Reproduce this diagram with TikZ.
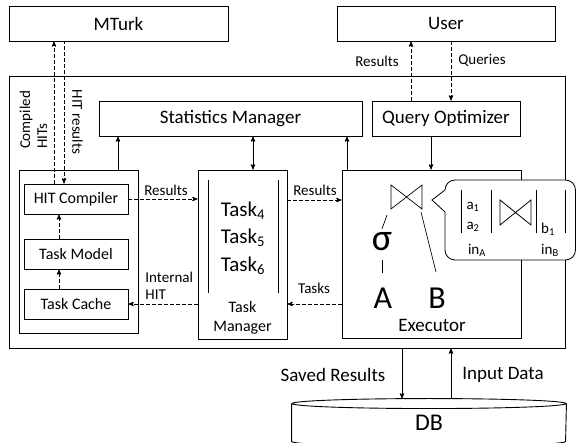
\documentclass[tikz,border=0pt]{standalone}
\usepackage{fontspec}
\setmainfont{Carlito}
\usetikzlibrary{positioning,arrows}

\begin{document}
\begin{tikzpicture}[x=1pt,y=-1pt,>=stealth',line width=0.9pt]
        \tikzstyle{box}=[draw,inner sep=0pt,font=\fontsize{19}{22}\selectfont]
        \tikzstyle{sub}=[draw,inner sep=0pt,minimum width=104pt,minimum height=30pt,
                font=\fontsize{16}{18}\selectfont]
        \tikzstyle{lbl}=[inner sep=0pt,font=\fontsize{15}{17}\selectfont]
        \tikzstyle{dsh}=[dash pattern=on 4pt off 2pt]
        \tikzstyle{big}=[inner sep=0pt,font=\fontsize{32}{34}\selectfont]

        \useasboundingbox (0,0) rectangle (576,443);

        \node[box,minimum width=219pt,minimum height=35pt] (MTurk) at (118.5,23.5) {MTurk};
        \node[box,minimum width=218pt,minimum height=35pt] (User)  at (446,23.5)   {User};
        \node[draw,minimum width=556pt,minimum height=272pt] (system) at (287,212) {};
        \node[box,minimum width=263pt,minimum height=35pt] (stats) at (230.5,118.5) {Statistics Manager};
        \node[box,minimum width=148pt,minimum height=35pt] (QO)    at (446,118.5)   {Query Optimizer};

        % crowd side
        \node[draw,minimum width=119pt,minimum height=163pt] (crowd) at (78.5,251.5) {};
        \node[sub] (HITc)  at (76,199) {HIT Compiler};
        \node[sub] (model) at (76,254) {Task Model};
        \node[sub] (cache) at (76,304) {Task Cache};

        % task manager
        \node[draw,minimum width=89pt,minimum height=169pt] (TM) at (242.5,254.5) {};
        \node[inner sep=0pt,align=center,font=\fontsize{21}{27.5}\selectfont] (tasks) at (243,238)
                {Task\textsubscript{4}\\Task\textsubscript{5}\\Task\textsubscript{6}};
        \draw (208,180) -- (208,293);
        \draw (278,180) -- (278,293);
        \node[inner sep=0pt,align=center,font=\fontsize{16}{19}\selectfont] (TMlbl) at (242.5,318)
                {Task\\Manager};

        % executor
        \node[draw,minimum width=179pt,minimum height=168pt] (exec) at (431.5,254) {};
        \node[inner sep=0pt,font=\fontsize{19}{22}\selectfont] (execlbl) at (432,325) {Executor};
        \draw[line width=0.7pt] (391,185) -- (391,209) -- (422,185) -- (422,209) -- cycle;
        \node[big,font=\fontsize{38}{40}\selectfont] (sigma) at (382,242) {σ};
        \node[big] (A) at (383,298) {A};
        \node[big] (B) at (437,298) {B};
        \draw[line width=0.7pt] (387,215) -- (382,229);
        \draw[line width=0.7pt] (382,260) -- (382,273);
        \draw[line width=0.7pt] (421,212) -- (436,272);

        % operator state callout
        \draw[fill=white,line width=0.8pt] (445,190) [rounded corners=10pt] -- (445,180) -- (575.5,180)
                -- (575.5,260) -- (445,260) [sharp corners] -- (445,212) -- (432,200) -- cycle;
        \begin{scope}[line width=0.8pt]
        \draw (461,190) -- (461,233);
        \draw (491,190) -- (491,233);
        \draw (536,190) -- (536,233);
        \draw (565,190) -- (565,233);
        \draw (500,200) -- (500,225) -- (531,200) -- (531,225) -- cycle;
        \end{scope}
        \node[lbl] (a1) at (473,207) {a\textsubscript{1}};
        \node[lbl] (a2) at (473,227) {a\textsubscript{2}};
        \node[lbl] (b1) at (548,229) {b\textsubscript{1}};
        \node[lbl] (inA) at (477,250) {in\textsubscript{A}};
        \node[lbl] (inB) at (550,250) {in\textsubscript{B}};

        % DB
        \node[inner sep=0pt,minimum width=274pt,minimum height=37pt,font=\fontsize{24}{26}\selectfont]
                (db) at (429,422.5) {DB};
        \draw (db.north) ellipse [x radius=137,y radius=5];
        \draw (db.north west) -- (db.south west) arc[start angle=180,end angle=0,x radius=137,y radius=5]
                -- (db.north east);

        % connectors
        \coordinate (ch) at ([xshift=-22pt]HITc.north);
        \coordinate (hr) at ([xshift=-12pt]HITc.north);
        \draw[->,dsh] (ch) -- (ch |- MTurk.south);
        \draw[<-,dsh] (hr) -- (hr |- MTurk.south);
        \node[lbl,rotate=90,align=left] (chlbl) at (33.5,120) {Compiled\\HITs};
        \node[lbl,rotate=-90] (hrlbl) at (77.5,122) {HIT results};

        \coordinate (ur) at (411,0);
        \coordinate (uq) at (451,0);
        \draw[->,dsh] (ur |- QO.north) -- (ur |- User.south);
        \draw[->,dsh] (uq |- User.south) -- (uq |- QO.north);
        \node[lbl] (urlbl) at (377,61) {Results};
        \node[lbl] (uqlbl) at (482,60) {Queries};

        \draw[->] (crowd.north -| 118,0) -- (stats.south -| 118,0);
        \draw[<->] (TM.north -| 253,0) -- (stats.south -| 253,0);
        \draw[->] (exec.north -| 347,0) -- (stats.south -| 347,0);
        \draw[->] (QO.south -| 431,0) -- (exec.north -| 431,0);

        \draw[->,dsh] (HITc.east) -- (HITc.east -| TM.west);
        \node[lbl] (r1) at (166,190) {Results};
        \draw[->,dsh] (TM.east |- 0,200) -- (exec.west |- 0,200);
        \node[lbl] (r2) at (315,190) {Results};
        \draw[->,dsh] (exec.west |- 0,304) -- (TM.east |- 0,304);
        \node[lbl] (tlbl) at (314,288) {Tasks};
        \draw[->,dsh] (TM.west |- cache.east) -- (cache.east);
        \node[lbl,align=left,anchor=west] (ilbl) at (145,286) {Internal\\HIT};
        \draw[->,dsh] (cache.north -| 59,0) -- (model.south -| 59,0);
        \draw[->,dsh] (model.north -| 59,0) -- (HITc.south -| 59,0);

        \draw[->] (system.south -| 402,0) -- ([yshift=5pt]db.north -| 402,0);
        \draw[->] ([yshift=5pt]db.north -| 451,0) -- (system.south -| 451,0);
        \node[inner sep=0pt,font=\fontsize{19}{22}\selectfont] (slbl) at (333,375) {Saved Results};
        \node[inner sep=0pt,font=\fontsize{19}{22}\selectfont] (ilbl2) at (503,375) {Input Data};

\end{tikzpicture}
\end{document}
